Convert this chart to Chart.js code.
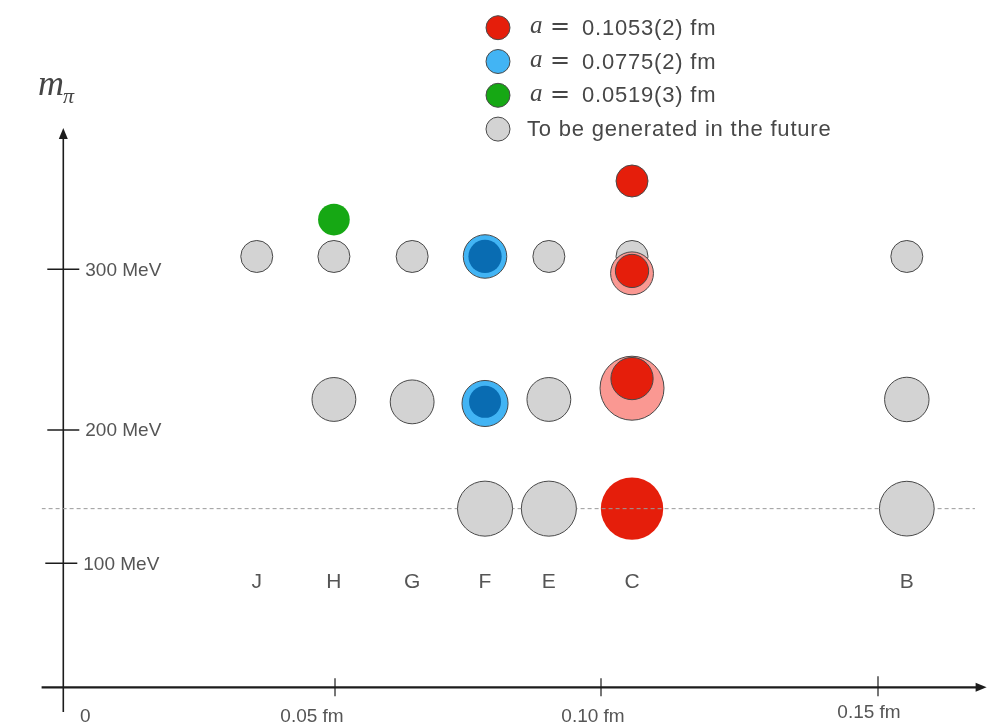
<!DOCTYPE html>
<html>
<head>
<meta charset="utf-8">
<style>
  html, body { margin: 0; padding: 0; background: #ffffff; overflow: hidden; }
  #plan { display: block; width: 1000px; height: 727px; }
</style>
<script src="https://cdn.jsdelivr.net/npm/chart.js@4/dist/chart.umd.min.js"></script>
</head>
<body>
<canvas id="plan" width="1000" height="727"></canvas>
<script>
// Ensemble columns and their lattice spacings (fm)
const ensembleNames   = ['J', 'H', 'G', 'F', 'E', 'C', 'B'];
const ensembleSpacing = [0.0356, 0.0498, 0.0645, 0.0782, 0.0902, 0.1056, 0.1552];

// Physical pion mass row (MeV)
const M_PHYS = 141;

// a = 0.1053(2) fm
const redEns  = ['C', 'C', 'C', 'C'];
const redMpi  = [355, 299, 232, 141];
const redSize = [1.0, 1.04, 1.32, 1.95];

// lighter shells around the a = 0.1053 fm ensembles
const pinkEns  = ['C', 'C'];
const pinkMpi  = [297.5, 226];
const pinkSize = [1.34, 2.0];

// a = 0.0775(2) fm (outer ring and core)
const blueEns      = ['F', 'F'];
const blueMpi      = [308, 216.5];
const blueSize     = [1.36, 1.44];
const blueCoreMpi  = [308, 217.5];
const blueCoreSize = [1.04, 1.0];

// a = 0.0519(3) fm
const greenEns  = ['H'];
const greenMpi  = [331];
const greenSize = [0.99];

// ensembles still to be generated
const greyEns  = ['J', 'H', 'G', 'E', 'C', 'B',   'H', 'G', 'E', 'B',   'F', 'E', 'B'];
const greyMpi  = [308, 308, 308, 308, 308, 308,   219, 217.5, 219, 219, 141, 141, 141];
const greySize = [1, 1, 1, 1, 1, 1,               1.37, 1.37, 1.37, 1.39, 1.72, 1.72, 1.71];

// axis ticks
const xTicks      = [0, 0.05, 0.10, 0.15];
const xTickLabels = ['0', '0.05 fm', '0.10 fm', '0.15 fm'];
const yTicks      = [100, 200, 300];
const yTickLabels = ['100 MeV', '200 MeV', '300 MeV'];

const legendLabels = ['a = 0.1053(2) fm', 'a = 0.0775(2) fm', 'a = 0.0519(3) fm', 'To be generated in the future'];

// ---- drawing setup ----
const R_UNIT = 16;            // pixel radius of a size-1 bubble
const X_MIN = -0.004, X_MAX = 0.1696;
const Y_MIN = -20, Y_MAX = 388;
// both axes are drawn with slightly unequal spacing between their ticks
const X_SEGMENTS = [[-0.004, 0], [0, 0.02296], [0.05, 0.31048], [0.10, 0.59196], [0.15, 0.88508], [0.1696, 1]];
const Y_SEGMENTS = [[-20, 0], [0, 0.0423], [100, 0.2546], [200, 0.4829], [300, 0.7580], [388, 1]];

const SANS = '"Liberation Sans", Arial, Helvetica, sans-serif';
const TEXT = '#555555';
const INK = '#1c1c1c';

class SegmentedScale extends Chart.LinearScale {
  _knots() { return this.axis === 'x' ? X_SEGMENTS : Y_SEGMENTS; }
  _toDecimal(v) {
    const k = this._knots();
    let i = 1;
    while (i < k.length - 1 && v > k[i][0]) i++;
    const [v0, d0] = k[i - 1], [v1, d1] = k[i];
    return d0 + (v - v0) / (v1 - v0) * (d1 - d0);
  }
  _fromDecimal(d) {
    const k = this._knots();
    let i = 1;
    while (i < k.length - 1 && d > k[i][1]) i++;
    const [v0, d0] = k[i - 1], [v1, d1] = k[i];
    return v0 + (d - d0) / (d1 - d0) * (v1 - v0);
  }
  getPixelForValue(value) {
    return value === null ? NaN : this.getPixelForDecimal(this._toDecimal(value));
  }
  getValueForPixel(pixel) {
    return this._fromDecimal(this.getDecimalForPixel(pixel));
  }
}
SegmentedScale.id = 'segmented';
SegmentedScale.defaults = Chart.LinearScale.defaults;
Chart.register(SegmentedScale);

function points(ens, mpi, size) {
  return ens.map((e, i) => ({
    x: ensembleSpacing[ensembleNames.indexOf(e)],
    y: mpi[i],
    r: size[i] * R_UNIT
  }));
}

const RED = 'rgb(229,30,11)', PINK = 'rgb(250,152,146)', BLUE = 'rgb(66,180,244)',
      BLUE_CORE = 'rgb(9,108,178)', GREEN = 'rgb(22,168,20)', GREY = 'rgb(211,211,211)',
      EDGE = 'rgb(72,72,72)';

const greyAll = points(greyEns, greyMpi, greySize);

const datasets = [
  { label: legendLabels[0], inLegend: true, data: points(redEns, redMpi, redSize),
    backgroundColor: RED, borderColor: EDGE,
    borderWidth: ctx => (ctx.raw && ctx.raw.y === M_PHYS) ? 0 : 1, order: 6 },
  { label: legendLabels[1], inLegend: true, data: points(blueEns, blueMpi, blueSize),
    backgroundColor: BLUE, borderColor: EDGE, borderWidth: 1, order: 5 },
  { label: legendLabels[2], inLegend: true, data: points(greenEns, greenMpi, greenSize),
    backgroundColor: GREEN, borderWidth: 0, order: 3 },
  { label: legendLabels[3], inLegend: true, data: greyAll.filter(p => p.y !== M_PHYS),
    backgroundColor: GREY, borderColor: EDGE, borderWidth: 1, order: 8 },
  { label: 'shell', data: points(pinkEns, pinkMpi, pinkSize),
    backgroundColor: PINK, borderColor: EDGE, borderWidth: 1, order: 7 },
  { label: 'core', data: points(['F', 'F'], blueCoreMpi, blueCoreSize),
    backgroundColor: BLUE_CORE, borderWidth: 0, order: 4 },
  { label: 'physical', type: 'line', data: [{ x: X_MIN, y: M_PHYS }, { x: 0.1675, y: M_PHYS }],
    borderColor: '#9a9a9a', borderWidth: 1, borderDash: [4, 3], pointRadius: 0, fill: false, order: 2 },
  { label: 'physical-future', data: greyAll.filter(p => p.y === M_PHYS),
    backgroundColor: GREY, borderColor: EDGE, borderWidth: 1, order: 1 }
];

// axes with arrows, ticks, tick labels and ensemble names
const frame = {
  id: 'frame',
  beforeDatasetsDraw(chart) {
    const { ctx, chartArea: a, scales: { x, y } } = chart;
    const x0 = x.getPixelForValue(0), y0 = y.getPixelForValue(0);
    ctx.save();
    ctx.strokeStyle = INK; ctx.fillStyle = INK;

    // m_pi axis
    ctx.lineWidth = 1.6;
    ctx.beginPath(); ctx.moveTo(x0, a.bottom); ctx.lineTo(x0, a.top + 8); ctx.stroke();
    ctx.beginPath(); ctx.moveTo(x0, a.top); ctx.lineTo(x0 - 4.5, a.top + 11); ctx.lineTo(x0 + 4.5, a.top + 11); ctx.closePath(); ctx.fill();

    // a axis
    ctx.lineWidth = 2.2;
    ctx.beginPath(); ctx.moveTo(a.left, y0); ctx.lineTo(a.right - 8, y0); ctx.stroke();
    ctx.beginPath(); ctx.moveTo(a.right, y0); ctx.lineTo(a.right - 11, y0 - 4.5); ctx.lineTo(a.right - 11, y0 + 4.5); ctx.closePath(); ctx.fill();

    // m_pi ticks
    ctx.lineWidth = 1.5;
    ctx.font = '19px ' + SANS;
    ctx.textAlign = 'left'; ctx.textBaseline = 'middle';
    yTicks.forEach((v, i) => {
      const py = y.getPixelForValue(v);
      const dx = v === 100 ? -2 : 0;
      ctx.beginPath(); ctx.moveTo(x0 - 16 + dx, py); ctx.lineTo(x0 + 16 + dx, py); ctx.stroke();
      ctx.fillStyle = TEXT; ctx.fillText(yTickLabels[i], x0 + 22 + dx, py + 1); ctx.fillStyle = INK;
    });

    // a ticks
    const labelShift = [22, -23, -8, -9];
    const labelDrop = [29, 29, 29, 25];
    ctx.textAlign = 'center';
    xTicks.forEach((v, i) => {
      const px = x.getPixelForValue(v);
      if (v !== 0) { ctx.lineWidth = 1.2; ctx.beginPath(); ctx.moveTo(px, y0 - (v === 0.15 ? 11 : 9)); ctx.lineTo(px, y0 + 9); ctx.stroke(); }
      ctx.fillStyle = TEXT; ctx.fillText(xTickLabels[i], px + labelShift[i], y0 + labelDrop[i]); ctx.fillStyle = INK;
    });

    // ensemble names under each column
    ctx.font = '21px ' + SANS;
    ctx.fillStyle = TEXT;
    const rowY = y.getPixelForValue(84.5);
    ensembleNames.forEach((n, i) => ctx.fillText(n, x.getPixelForValue(ensembleSpacing[i]), rowY));

    // axis title m_pi
    ctx.fillStyle = '#454545';
    ctx.textAlign = 'left'; ctx.textBaseline = 'alphabetic';
    ctx.font = 'italic 36px "Liberation Serif", "Times New Roman", serif';
    ctx.fillText('m', 38, 95);
    ctx.font = 'italic 22px "Liberation Serif", "Times New Roman", serif';
    ctx.fillText('π', 63, 103);
    ctx.restore();
  },
  afterDraw(chart) {
    const ctx = chart.ctx;
    const items = chart.data.datasets.filter(d => d.inLegend);
    ctx.save();
    items.forEach((d, i) => {
      const cy = 27.7 + i * 33.8;
      ctx.beginPath(); ctx.arc(498, cy, 12, 0, Math.PI * 2);
      ctx.fillStyle = d.backgroundColor; ctx.fill();
      ctx.lineWidth = 1; ctx.strokeStyle = '#4a4a4a'; ctx.stroke();
      ctx.fillStyle = '#474747';
      ctx.textAlign = 'left'; ctx.textBaseline = 'middle';
      const m = /^(\w) = (.*)$/.exec(d.label);
      if (m) {
        ctx.font = 'italic 25px "Liberation Serif", "Times New Roman", serif';
        ctx.fillText(m[1], 530, cy - 1);
        ctx.font = '24px "DejaVu Serif", serif';
        ctx.fillText('=', 550, cy);
        ctx.font = '22px ' + SANS;
        ctx.letterSpacing = '0.8px';
        ctx.fillText(m[2], 582, cy + 1);
        ctx.letterSpacing = '0px';
      } else {
        ctx.font = '22px ' + SANS;
        ctx.letterSpacing = '0.8px';
        ctx.fillText(d.label, 527, cy + 1);
        ctx.letterSpacing = '0px';
      }
    });
    ctx.restore();
  }
};

new Chart(document.getElementById('plan'), {
  type: 'bubble',
  data: { datasets },
  options: {
    responsive: false,
    maintainAspectRatio: false,
    devicePixelRatio: 1,
    animation: false,
    events: [],
    layout: { autoPadding: false, padding: { left: 41.6, right: 13.4, top: 128, bottom: 15 } },
    scales: {
      x: { type: 'segmented', min: X_MIN, max: X_MAX, display: false },
      y: { type: 'segmented', min: Y_MIN, max: Y_MAX, display: false }
    },
    plugins: { legend: { display: false }, tooltip: { enabled: false } }
  },
  plugins: [frame]
});
</script>
</body>
</html>
